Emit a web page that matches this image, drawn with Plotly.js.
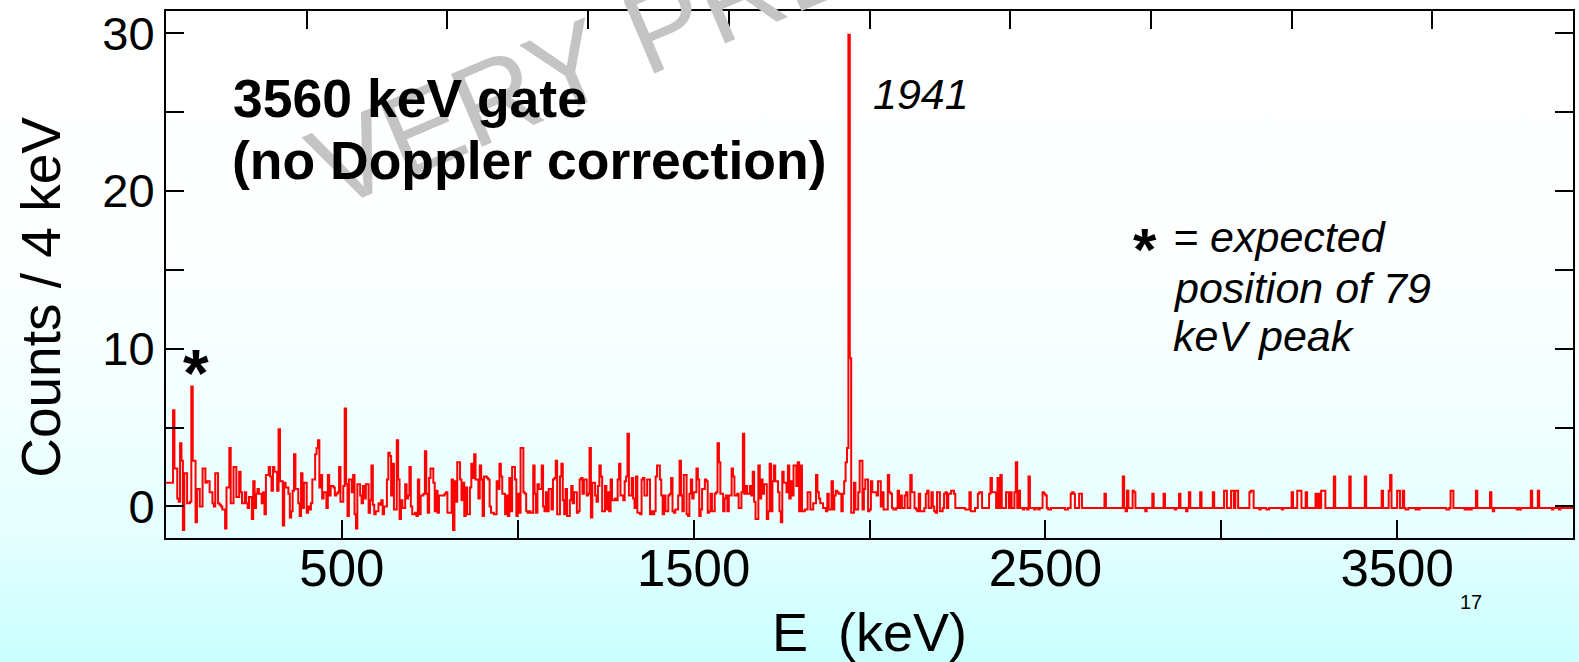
<!DOCTYPE html>
<html>
<head>
<meta charset="utf-8">
<script src="https://cdn.plot.ly/plotly-3.0.1.min.js"></script>
<style>
  html, body { margin: 0; padding: 0; }
  body {
    width: 1579px; height: 662px; overflow: hidden;
    background: linear-gradient(to bottom, #ffffff 0%, #fdffff 35%, #f5ffff 57%, #e6ffff 80%, #c9ffff 100%);
  }
  #chart { width: 1579px; height: 662px; }
</style>
</head>
<body>
<div id="chart"></div>
<script>
// Gamma-ray spectrum, 3560 keV gate, 4 keV bins (counts per bin), bins start at 0 keV
const binWidth = 4;

const counts_0_500 = [
 1.5,1.5,1.5,1.5,1.5,6.1,2.4,2.4,0.5,0.3,
 4.0,2.9,-1.5,2.1,2.1,0.2,0.2,0.3,7.6,2.9,
 2.9,-1.0,1.1,1.1,0,0,2.4,2.4,1.5,1.6,
 1.6,0.9,0.9,0.2,0.0,2.1,2.1,0.2,0.1,0.0,
 -0.2,-0.2,-1.4,1.2,1.2,3.7,0.2,0.2,2.5,2.5,
 0.6,0.6,2.2,0.9,0.2,0.2,0.9,0.2,-0.1,0.6,
 0.6,-0.8,1.6,-0.1,0.8,1.1,0.8,0.8,0.2,0.9,
 -0.5,2.0,2.0,2.5,1.9,1.0,2.5,2.2,2.2,1.0,
 4.9,1.6,1.6,-1.2,1.5,1.2,1.2,0.8,-0.7,-0.3,
 1.0,3.3,1.1,1.1,0.2,-0.6,2.1,-0.1,1.5,1.5,
 -0.4,0.0,-0.2,0.2,1.7,1.7,3.3,3.7,4.2,1.2,
 2.0,0.5,0.9,0.9,-0.1,2.0,0.7,1.3,1.3,1.2,
 0.7,0.8,0.9,2.5,0.3];

const counts_500_1000 = [
 0.3,1.3,6.2,1.4,-0.6,1.7,1.7,0.9,2.0,-0.5,
 -1.4,1.4,1.4,0.7,0.2,1.3,0.5,1.4,1.4,-0.4,
 0.4,2.6,0.1,-0.5,-0.3,-0.3,0.2,0.1,0.4,-0.5,
 0.0,0.0,1.7,3.4,3.2,0.7,2.7,-0.2,-0.2,4.2,
 1.7,-0.8,0.4,-0.1,-0.1,1.4,0.5,0.7,
 2.5,0,-0.5,-0.5,-0.4,-0.6,1.7,-0.5,0.7,0.7,
 0.8,3.5,0.8,-0.4,1.8,2.4,2.4,1.5,-0.3,1.0,
 -0.4,0.7,0.7,0.7,0.7,0.8,0.9,-0.4,-0.4,-0.4,
 1.7,-1.5,1.6,0.3,2.8,2.8,1.7,0.4,1.5,-0.6,
 1.2,-0.5,-0.5,1.2,2.7,1.8,3.3,1.7,1.7,0.5,
 2.6,1.7,-0.6,1.9,1.9,1.8,1.7,0,-0.4,-0.4,
 -0.5,-0.5,1.6,1.1,2.7,1.9,0.8,0.8,-0.5,0.7,
 -0.6,1.8,-0.3,2.5,2.5,1.7,-0.6];

const counts_1000_1500 = [
 0.8,-0.4,3.7,3.7,0.9,0.8,-0.3,-0.4,-0.3,-0.4,
 -0.4,2.6,0.8,-0.4,1.4,1.1,1.1,2.6,0,-0.3,
 0.9,-0.3,1.1,1.1,-0.2,1.7,1.8,2.9,-0.5,-0.5,
 1.9,2.7,0.4,-0.5,1.1,-0.6,-0.6,0.4,1.3,0.2,
 0.9,0.9,-0.4,-0.3,1.7,1.8,0.8,1.7,1.7,0.7,
 0.8,3.7,-0.7,1.5,1.5,0.7,0.3,1.3,2.6,1.9,
 -0.3,-0.3,1.3,-0.2,0.9,-0.3,1.7,0.4,0.4,0.5,
 0.4,1.7,2.7,0.7,0.7,0.4,1.6,1.9,4.6,0.7,
 0.7,1.8,0.5,-0.1,1.9,-0.4,-0.4,-0.5,1.7,1.8,
 0.7,0.7,1.7,
 1.7,-0.5,-0.3,-0.5,-0.3,1.9,2.6,2.6,1.7,0.7,
 -0.5,0.7,-0.3,-0.3,0.7,0.8,1.8,-0.3,-0.4,-0.2,
 -0.2,0.7,2.9,0.7,-0.3,2.0,2.0,-0.5,-0.6,0.8,
 1.7,0.5];

const counts_1500_2000 = [
 0.9,0.9,2.4,1.7,-0.6,-0.2,1.1,1.1,1.7,1.6,
 -0.4,-0.3,0.8,-0.3,-0.3,0.8,0.9,4.0,2.8,0.8,
 0.8,-0.3,0.5,0.7,-0.3,0.7,0.7,2.4,1.9,0.7,
 0.7,0.8,-0.1,-0.1,0.9,4.6,0.8,1.3,0.8,0.8,
 1.3,0.7,2.2,0.3,-0.8,-0.8,2.6,0.5,1.7,0.8,
 1.4,1.4,-0.8,-0.3,2.7,-0.3,1.6,2.6,1.6,1.6,
 0.9,-0.3,-1.0,2.2,1.5,1.5,0.9,2.6,0.5,1.6,
 0.7,2.6,2.6,1.3,2.8,-0.3,2.6,-0.3,-0.3,-0.2,
 -0.2,0.9,
 0.9,-0.2,-0.2,0.2,0.2,2.0,0.9,0.5,0.2,0.2,
 -0.1,-0.1,-0.3,0.8,-0.2,-0.2,1.6,-0.2,0.7,1.0,
 0.9,0.8,0.8,-0.3,0.8,1.6,2.8,3.7,29.9,9.4,
 -0.4,-0.4,1.5,-0.2,-0.2,0.9,2.9,2.9,-0.2,1.1,
 1.7,1.7,-0.3];

const counts_2000_2500 = [
 -0.2,1.6,0.9,0.9,0.9,0.7,1.6,1.6,0,0.9,
 -0.2,-0.2,-0.2,2.0,0.9,0.8,-0.1,-0.2,-0.2,-0.1,
 1.0,-0.1,0.7,-0.1,-0.1,0.7,0.9,-0.1,-0.1,2.0,
 0.9,0.9,-0.1,-0.2,-0.3,0.8,-0.3,-0.3,-0.3,-0.1,
 0.8,1.0,-0.1,-0.1,0.9,0,-0.3,-0.4,0.9,0.9,
 -0.3,-0.3,-0.1,0.8,0.9,-0.1,0.8,0.8,1.0,1.0,
 0.8,-0.1,-0.1,-0.1,-0.1,-0.1,-0.1,-0.1,-0.2,-0.2,
 -0.2,0.9,-0.3,-0.3,-0.3,-0.1,-0.1,0.8,0.9,0.9,
 -0.1,-0.1,-0.1,-0.1,-0.1,0.8,1.8,0.9,0.9,0.9,
 -0.1,1.8,-0.1,2.0,-0.1,-0.1,-0.1,0.9,0.9,-0.1,
 0.9,-0.1,-0.1,0.9,2.8,-0.1,1.0,-0.1,-0.1,-0.2,
 -0.1,-0.1,-0.2,1.9,-0.1,-0.1,-0.1,-0.2,-0.1,-0.1,
 -0.2,-0.1,-0.1,0.9,0.8];

const counts_2500_3000 = [
 0.7,-0.1,-0.2,-0.2,-0.1,-0.1,-0.1,-0.1,-0.1,-0.1,
 -0.1,-0.1,-0.1,-0.1,-0.2,-0.2,-0.1,-0.1,0.8,0.9,
 0.8,-0.1,-0.1,-0.1,0.8,0.8,-0.1,-0.1,-0.1,-0.1,
 -0.1,-0.1,-0.1,-0.1,-0.1,-0.1,-0.1,-0.1,-0.1,-0.1,
 -0.1,-0.1,0.8,-0.1,-0.1,-0.1,-0.1,-0.1,-0.1,-0.1,
 -0.1,-0.1,-0.1,-0.1,-0.1,1.9,-0.1,-0.3,1.0,-0.1,
 -0.1,-0.1,1.0,0.9,-0.1,-0.1,-0.1,-0.1,-0.1,-0.1,
 -0.1,-0.3,-0.1,-0.1,-0.1,-0.1,0.8,-0.1,-0.1,-0.1,
 -0.1,-0.1,-0.1,-0.1,0.8,-0.1,-0.1,-0.1,-0.1,-0.1,
 -0.1,-0.1,-0.2,-0.1,-0.1,0.8,-0.1,-0.1,-0.1,-0.1,
 -0.3,-0.1,0.9,-0.1,-0.1,-0.1,-0.1,-0.1,-0.1,-0.1,
 0.9,-0.1,-0.1,-0.1,-0.1,-0.1,-0.1,-0.1,-0.1,0.9,
 -0.1,-0.1,-0.1,-0.1,-0.1];

const counts_3000_3500 = [
 -0.1,-0.1,1.0,1.0,-0.1,-0.1,-0.1,1.0,1.0,-0.1,
 1.0,1.0,-0.1,-0.1,-0.1,-0.1,-0.1,-0.1,-0.1,-0.1,
 0.9,1.0,1.0,-0.1,-0.1,-0.1,-0.1,-0.2,-0.1,-0.1,
 -0.1,-0.1,-0.2,-0.2,-0.1,-0.1,-0.1,-0.1,-0.1,-0.1,
 -0.1,-0.1,-0.1,-0.2,-0.1,-0.1,-0.1,-0.1,-0.1,-0.1,
 0.9,-0.1,-0.1,-0.1,1.0,1.0,1.0,-0.1,-0.1,-0.1,
 0.9,-0.1,-0.1,-0.1,-0.1,-0.1,-0.1,0.8,-0.1,0.8,
 -0.1,1.0,1.0,1.0,-0.1,-0.1,-0.1,-0.1,-0.1,-0.1,
 1.9,-0.1,-0.1,-0.1,-0.1,-0.1,-0.1,-0.1,-0.1,-0.1,
 -0.1,1.9,-0.1,-0.1,-0.1,-0.1,-0.1,-0.1,-0.1,-0.1,
 -0.1,-0.1,1.9,-0.1,-0.1,-0.1,-0.1,-0.1,-0.1,-0.1,
 -0.1,-0.1,-0.1,-0.1,1.0,-0.1,-0.1,-0.1,-0.1,1.0,
 2.0,-0.1,-0.1,-0.1,-0.1];

const counts_3500_4000 = [
 1.0,1.0,-0.1,-0.1,1.0,-0.1,-0.2,-0.2,-0.1,-0.1,
 -0.1,-0.1,-0.1,-0.2,-0.1,-0.2,-0.1,-0.1,-0.1,-0.1,
 -0.1,-0.1,-0.1,-0.1,-0.1,-0.1,-0.1,-0.1,-0.1,-0.1,
 -0.1,-0.1,-0.1,-0.1,-0.1,-0.2,-0.2,-0.1,1.0,1.0,
 -0.1,-0.1,-0.1,-0.1,-0.1,-0.1,-0.1,-0.1,-0.2,-0.1,
 -0.2,-0.1,-0.2,-0.1,-0.1,-0.1,1.0,-0.1,-0.1,-0.1,
 -0.1,-0.1,-0.1,-0.1,-0.1,-0.1,0.9,-0.1,-0.3,-0.1,
 -0.1,-0.1,-0.1,-0.1,-0.1,-0.1,-0.1,-0.1,-0.1,-0.1,
 -0.1,-0.1,-0.1,-0.1,-0.1,-0.2,-0.1,-0.2,-0.1,-0.1,
 -0.1,-0.1,-0.1,-0.1,-0.1,1.0,-0.1,-0.1,-0.1,-0.1,
 1.0,-0.1,-0.1,-0.1,-0.1,-0.1,-0.1,-0.1,-0.1,-0.1,
 -0.2,-0.1,-0.1,-0.1,-0.1,-0.2,-0.1,-0.1,-0.1,-0.1,
 -0.1,-0.1,-0.1,-0.1,-0.1];

const xTickVals = [500, 1000, 1500, 2000, 2500, 3000, 3500];
const xTickText = ['500', '', '1500', '', '2500', '', '3500'];
const yTickVals = [0, 5, 10, 15, 20, 25, 30];
const yTickText = ['0', '', '10', '', '20', '', '30'];

const counts = [].concat(counts_0_500, counts_500_1000, counts_1000_1500, counts_1500_2000,
                         counts_2000_2500, counts_2500_3000, counts_3000_3500, counts_3500_4000);
const energies = counts.map((_, i) => i * binWidth);
// close the last bin
const xs = energies.concat([counts.length * binWidth]);
const ys = counts.concat([counts[counts.length - 1]]);

const FONT = 'Liberation Sans, Arial, Helvetica, sans-serif';

const traces = [
  {
    x: xs, y: ys, type: 'scatter', mode: 'lines',
    line: { shape: 'hv', color: '#ff0000', width: 2 },
    hoverinfo: 'x+y', showlegend: false
  },
  // carrier for the top axis (ticks every 400 keV)
  { x: [0, 4000], y: [null, null], xaxis: 'x2', yaxis: 'y', type: 'scatter', mode: 'lines',
    showlegend: false, hoverinfo: 'skip' }
];

const layout = {
  width: 1579, height: 662,
  margin: { l: 166, r: 6, t: 11, b: 124 },
  paper_bgcolor: 'rgba(0,0,0,0)',
  plot_bgcolor: 'rgba(0,0,0,0)',
  font: { family: FONT, color: '#000' },
  showlegend: false,
  xaxis: {
    range: [0, 4000], autorange: false,
    tickmode: 'array', tickvals: xTickVals, ticktext: xTickText,
    ticks: 'inside', ticklen: 18, tickwidth: 2, tickcolor: '#000',
    tickfont: { size: 51, family: FONT, color: '#000' },
    ticklabelstandoff: -15,
    showline: true, linecolor: '#000', linewidth: 2, mirror: true,
    showgrid: false, zeroline: false, automargin: false,
    title: { text: 'E\u00a0 (keV)', font: { size: 54, family: FONT, color: '#000' }, standoff: 17 }
  },
  xaxis2: {
    overlaying: 'x', side: 'top', anchor: 'y',
    range: [0, 4000], autorange: false,
    tickmode: 'linear', tick0: 0, dtick: 400,
    ticks: 'inside', ticklen: 18, tickwidth: 2, tickcolor: '#000',
    showticklabels: false, showline: false, showgrid: false, zeroline: false
  },
  yaxis: {
    range: [-2, 31.4], autorange: false,
    tickmode: 'array', tickvals: yTickVals, ticktext: yTickText,
    ticks: 'inside', ticklen: 18, tickwidth: 2, tickcolor: '#000',
    tickfont: { size: 47, family: FONT, color: '#000' },
    showline: true, linecolor: '#000', linewidth: 2, mirror: 'ticks',
    showgrid: false, zeroline: false, automargin: false,
    title: { text: 'Counts / 4 keV\u00a0\u00a0\u00a0\u200b', font: { size: 55, family: FONT, color: '#000' }, standoff: 24 }
  },
  annotations: [
    { text: 'VERY PRELIMINARY', x: 0.473, y: 1.1055, xref: 'paper', yref: 'paper', showarrow: false,
      textangle: -23, xanchor: 'center', yanchor: 'middle',
      font: { size: 115, family: FONT, color: '#c4c4c4' } },
    { text: '<b>3560 keV gate</b>', x: 184, y: 25.87, xref: 'x', yref: 'y', showarrow: false,
      xanchor: 'left', yanchor: 'middle', font: { size: 53.5, family: FONT, color: '#000' } },
    { text: '<b>(no Doppler correction)</b>', x: 181.5, y: 21.9, xref: 'x', yref: 'y', showarrow: false,
      xanchor: 'left', yanchor: 'middle', font: { size: 53.5, family: FONT, color: '#000' } },
    { text: '<i>1941</i>', x: 2005, y: 26.16, xref: 'x', yref: 'y', showarrow: false,
      xanchor: 'left', yanchor: 'middle', font: { size: 43, family: FONT, color: '#000' } },
    { text: '<b>*</b>', x: 84, y: 8.45, xref: 'x', yref: 'y', showarrow: false,
      xanchor: 'center', yanchor: 'middle', font: { size: 66, family: FONT, color: '#000' } },
    { text: '<b>*</b>', x: 2783, y: 16.3, xref: 'x', yref: 'y', showarrow: false,
      xanchor: 'center', yanchor: 'middle', font: { size: 60, family: FONT, color: '#000' } },
    { text: '<i>= expected</i>', x: 2857, y: 17.1, xref: 'x', yref: 'y', showarrow: false,
      xanchor: 'left', yanchor: 'middle', font: { size: 43, family: FONT, color: '#000' } },
    { text: '<i>position of 79</i>', x: 2857, y: 13.84, xref: 'x', yref: 'y', showarrow: false,
      xanchor: 'left', yanchor: 'middle', font: { size: 43, family: FONT, color: '#000' } },
    { text: '<i>keV peak</i>', x: 2857, y: 10.78, xref: 'x', yref: 'y', showarrow: false,
      xanchor: 'left', yanchor: 'middle', font: { size: 43, family: FONT, color: '#000' } },
    { text: '17', x: 0.9275, y: -0.1214, xref: 'paper', yref: 'paper', showarrow: false,
      xanchor: 'center', yanchor: 'middle', font: { size: 20, family: FONT, color: '#000' } }
  ]
};

Plotly.newPlot('chart', traces, layout, { displayModeBar: false, staticPlot: true });
</script>
</body>
</html>
